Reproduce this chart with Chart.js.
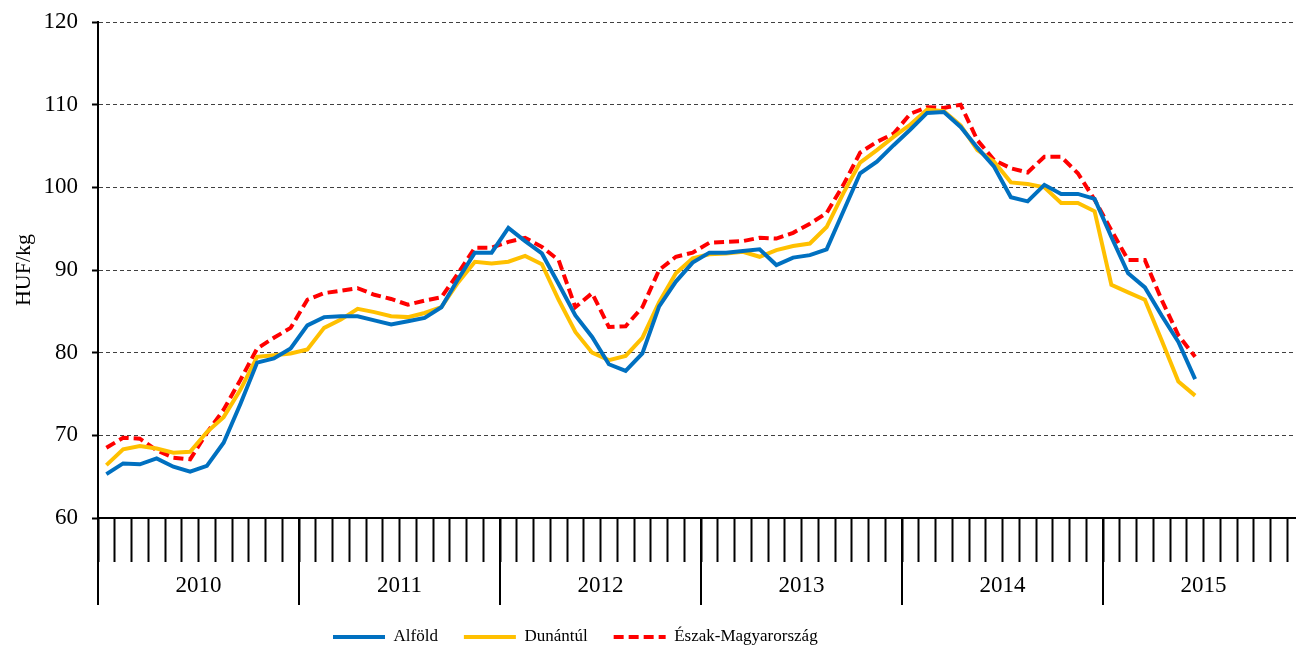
<!DOCTYPE html>
<html>
<head>
<meta charset="utf-8">
<script src="https://cdn.jsdelivr.net/npm/chart.js@4.4.0/dist/chart.umd.min.js"></script>
<style>
	html, body { margin: 0; padding: 0; background: #fff; overflow: hidden; }
	#wrap { width: 1310px; height: 648px; }
</style>
</head>
<body>
<div id="wrap"><canvas id="chart"></canvas></div>
<script>
// years shown on the x axis, one block of 12 months each
const YEARS = ['2010', '2011', '2012', '2013', '2014', '2015'];
const MONTHS_PER_YEAR = 12;

// monthly prices, HUF/kg, 2010 jan - 2015 jun
const ALFOLD = [
	65.3, 66.6, 66.5, 67.2, 66.2, 65.6, 66.3, 69.1, 73.8, 78.8, 79.3, 80.5,
	83.3, 84.3, 84.4, 84.4, 83.9, 83.4, 83.8, 84.2, 85.5, 88.9, 92.1, 92.1,
	95.1, 93.5, 92.0, 88.3, 84.5, 81.9, 78.6, 77.8, 79.9, 85.6, 88.6, 90.9,
	92.1, 92.1, 92.3, 92.5, 90.6, 91.5, 91.8, 92.5, 97.1, 101.7, 103.1, 105.1,
	107.0, 109.0, 109.1, 107.3, 104.8, 102.5, 98.8, 98.3, 100.3, 99.2, 99.2, 98.6,
	94.0, 89.6, 87.9, 84.5, 81.3, 76.8
];
const DUNANTUL = [
	66.4, 68.3, 68.7, 68.4, 67.9, 68.0, 70.4, 72.2, 75.5, 79.5, 79.7, 79.9,
	80.4, 83.0, 84.0, 85.3, 84.9, 84.4, 84.3, 84.8, 85.5, 88.5, 91.0, 90.8,
	91.0, 91.7, 90.7, 86.4, 82.5, 80.0, 79.1, 79.6, 81.8, 86.1, 89.6, 91.4,
	91.9, 92.0, 92.2, 91.6, 92.4, 92.9, 93.2, 95.2, 99.3, 103.0, 104.5, 106.1,
	107.6, 109.4, 109.2, 107.5, 104.5, 103.1, 100.6, 100.4, 100.0, 98.1, 98.1, 97.1,
	88.2, 87.3, 86.4, 81.5, 76.5, 74.8
];
const ESZAK = [
	68.5, 69.7, 69.6, 68.2, 67.3, 67.1, 70.3, 73.1, 76.7, 80.5, 81.8, 83.0,
	86.4, 87.2, 87.5, 87.8, 87.0, 86.5, 85.8, 86.3, 86.7, 89.6, 92.7, 92.7,
	93.4, 93.9, 92.8, 91.2, 85.5, 87.2, 83.1, 83.2, 85.5, 90.0, 91.6, 92.1,
	93.3, 93.4, 93.5, 93.9, 93.8, 94.5, 95.6, 96.9, 100.3, 104.2, 105.5, 106.5,
	108.9, 109.7, 109.6, 110.0, 105.7, 103.3, 102.3, 101.8, 103.7, 103.7, 101.7, 98.5,
	94.8, 91.2, 91.2, 86.4, 82.1, 79.5
];
const Y_MIN = 60;
const Y_MAX = 120;
const Y_STEP = 10;

const FONT = '"Liberation Serif", "Times New Roman", serif';

// one category per month, label = year (only used for the year text)
let labels = [];
YEARS.forEach(y => {
	for (let m = 0; m < MONTHS_PER_YEAR; m++) labels.push(y);
});

// long separator lines between the years, below the axis
const yearLines = {
	id: 'yearLines',
	afterDraw(chart) {
		let x = chart.scales.x;
		let ctx = chart.ctx;
		let half = (x.getPixelForValue(1) - x.getPixelForValue(0)) / 2;
		ctx.save();
		ctx.strokeStyle = '#000';
		ctx.lineWidth = 2;
		for (let i = 0; i <= labels.length; i += MONTHS_PER_YEAR) {
			let px = Math.round(x.getPixelForValue(i) - half);
			ctx.beginPath();
			ctx.moveTo(px, x.top);
			ctx.lineTo(px, x.top + 87);
			ctx.stroke();
		}
		ctx.restore();
	}
};

// the legend in the original sits left of centre, a bit lower
const legendPlace = {
	id: 'legendPlace',
	afterUpdate(chart) {
		let legend = chart.legend;
		if (!legend || !legend.legendHitBoxes.length) return;
		let hb = legend.legendHitBoxes[0];
		let dx = 333 - hb.left;
		let dy = 637 - (hb.top + hb.height / 2);
		legend.left += dx;
		legend.right += dx;
		legend.top += dy;
		legend.bottom += dy;
	}
};

let chart = new Chart(document.getElementById('chart'), {
	type: 'line',
	data: {
		labels: labels,
		datasets: [{
			label: 'Alföld',
			data: ALFOLD,
			borderColor: '#0070C0',
			backgroundColor: '#0070C0',
			borderWidth: 4,
			pointRadius: 0,
			tension: 0
		}, {
			label: 'Dunántúl',
			data: DUNANTUL,
			borderColor: '#FFC000',
			backgroundColor: '#FFC000',
			borderWidth: 4,
			pointRadius: 0,
			tension: 0
		}, {
			label: 'Észak-Magyarország',
			data: ESZAK,
			borderColor: '#FF0000',
			backgroundColor: '#FF0000',
			borderWidth: 4,
			borderDash: [10, 5],
			pointRadius: 0,
			tension: 0
		}]
	},
	options: {
		responsive: true,
		maintainAspectRatio: false,
		animation: false,
		layout: { padding: { top: 22, right: 6, left: 0, bottom: 0 } },
		plugins: {
			tooltip: { enabled: false },
			legend: {
				position: 'bottom',
				labels: {
					font: { family: FONT, size: 17 },
					color: '#000',
					usePointStyle: true,
					pointStyle: 'line',
					pointStyleWidth: 52,
					boxHeight: 17,
					padding: 26,
					generateLabels: function(chart) {
						let items = Chart.defaults.plugins.legend.labels.generateLabels(chart);
						items.forEach(item => {
							let ds = chart.data.datasets[item.datasetIndex];
							item.lineDash = ds.borderDash || [];
							item.lineWidth = ds.borderWidth;
							item.strokeStyle = ds.borderColor;
						});
						return items;
					}
				}
			}
		},
		scales: {
			x: {
				offset: true,
				grid: {
					offset: true,
					drawOnChartArea: false,
					drawTicks: true,
					tickLength: 44,
					tickColor: '#000',
					tickWidth: 2
				},
				border: { display: true, color: '#000', width: 2 },
				ticks: {
					autoSkip: false,
					maxRotation: 0,
					font: { family: FONT, size: 23 },
					color: '#000',
					padding: 10,
					labelOffset: 8.4,
					callback: function(value, index) {
						return (index % MONTHS_PER_YEAR == 5) ? labels[index] : '';
					}
				},
				afterFit: function(scale) {
					let lg = scale.chart.legend;
					scale.height = 648 - 518 - (lg ? lg.height : 0);
				}
			},
			y: {
				min: Y_MIN,
				max: Y_MAX,
				ticks: {
					stepSize: Y_STEP,
					font: { family: FONT, size: 23 },
					color: '#000',
					padding: 14
				},
				grid: {
					color: '#404040',
					lineWidth: 1,
					tickLength: 6,
					tickColor: '#000',
					tickWidth: 2,
					tickBorderDash: []
				},
				border: { display: true, color: '#000', width: 2, dash: [4, 3] },
				title: {
					display: true,
					text: 'HUF/kg',
					font: { family: FONT, size: 22 },
					color: '#000',
					padding: { top: 11, bottom: 0 }
				},
				afterFit: function(scale) {
					scale.width = 98;
					scale.paddingTop = 0;
					scale.paddingBottom = 0;
				}
			}
		}
	},
	plugins: [yearLines, legendPlace]
});
</script>
</body>
</html>
